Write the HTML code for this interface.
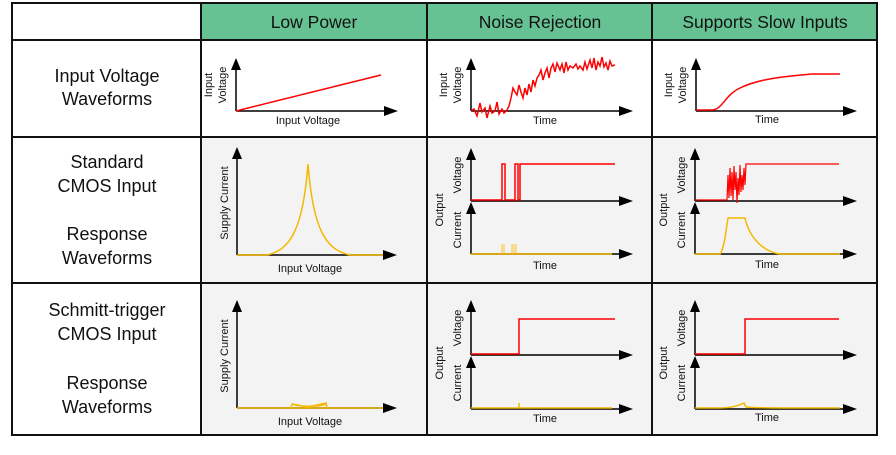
<!DOCTYPE html>
<html><head><meta charset="utf-8"><style>
body{margin:0;background:#fff;}
svg{display:block;font-family:"Liberation Sans",sans-serif;}
</style></head><body>
<svg width="896" height="455" viewBox="0 0 896 455">
<rect x="201" y="3" width="676" height="37" fill="#66c293"/>
<rect x="201" y="137" width="676" height="298" fill="#f3f3f3"/>
<g stroke="#111" stroke-width="2" fill="none">
<rect x="12" y="3" width="865" height="432"/>
<line x1="12" y1="40" x2="877" y2="40"/>
<line x1="12" y1="137" x2="877" y2="137"/>
<line x1="12" y1="283" x2="877" y2="283"/>
<line x1="201" y1="3" x2="201" y2="435"/>
<line x1="427" y1="3" x2="427" y2="435"/>
<line x1="652" y1="3" x2="652" y2="435"/>
</g>
<g font-size="17.5" text-anchor="middle" fill="#111">
<text x="314" y="28">Low Power</text>
<text x="540" y="28">Noise Rejection</text>
<text x="765" y="28">Supports Slow Inputs</text>
</g>
<g font-size="18" text-anchor="middle" fill="#111">
<text x="107" y="82">Input Voltage</text>
<text x="107" y="105">Waveforms</text>
<text x="107" y="168">Standard</text>
<text x="107" y="192">CMOS Input</text>
<text x="107" y="240">Response</text>
<text x="107" y="264">Waveforms</text>
<text x="107" y="316">Schmitt-trigger</text>
<text x="107" y="340">CMOS Input</text>
<text x="107" y="389">Response</text>
<text x="107" y="413">Waveforms</text>
</g>

<g stroke="#000" stroke-width="1.5" fill="none">
<path d="M236 111V66M236 111H388"/>
<path d="M471 111V66M471 111H622"/>
<path d="M696 111V66M696 111H846"/>
<path d="M237 255V157M237 255H386"/>
<path d="M471 201V157M471 201H622M471 254V213M471 254H622"/>
<path d="M695 201V157M695 201H846M695 254V213M695 254H846"/>
<path d="M237 408V310M237 408H386"/>
<path d="M471 355V310M471 355H622M471 409V367M471 409H622"/>
<path d="M695 355V310M695 355H846M695 409V367M695 409H846"/>
</g>
<g fill="#000">
<polygon points="236,58 231,70 241,70"/><polygon points="398,111 384,106 384,116"/>
<polygon points="471,58 466,70 476,70"/><polygon points="633,111 619,106 619,116"/>
<polygon points="696,58 691,70 701,70"/><polygon points="857,111 843,106 843,116"/>
<polygon points="237,147 232,159 242,159"/><polygon points="397,255 383,250 383,260"/>
<polygon points="471,148 466,160 476,160"/><polygon points="633,201 619,196 619,206"/>
<polygon points="471,202 466,214 476,214"/><polygon points="633,254 619,249 619,259"/>
<polygon points="695,148 690,160 700,160"/><polygon points="857,201 843,196 843,206"/>
<polygon points="695,202 690,214 700,214"/><polygon points="857,254 843,249 843,259"/>
<polygon points="237,300 232,312 242,312"/><polygon points="397,408 383,403 383,413"/>
<polygon points="471,300 466,312 476,312"/><polygon points="633,355 619,350 619,360"/>
<polygon points="471,356 466,368 476,368"/><polygon points="633,409 619,404 619,414"/>
<polygon points="695,300 690,312 700,312"/><polygon points="857,355 843,350 843,360"/>
<polygon points="695,356 690,368 700,368"/><polygon points="857,409 843,404 843,414"/>
</g>

<g stroke="#ff0000" stroke-width="1.5" fill="none">
<path d="M236 111L381 75"/>
<path d="M471 111L474 109L477 116L480 103L482 112L485 108L487 118L490 106L492 113L495 111L497 102L499 114L502 109L504 113L507 110L509 106L511 98L513 88L515 92L517 95L519 85L521 92L523 98L525 88L527 95L529 84L531 92L533 80L535 86L537 78L539 75L541 70L543 80L545 73L547 68L549 78L551 68L553 64L555 72L557 63L560 70L562 64L564 73L566 62L568 70L570 66L573 68L576 64L578 69L580 66L583 70L585 62L587 69L590 60L592 68L594 58L596 70L598 62L600 66L602 57L604 67L606 63L608 70L610 61L612 66L615 65"/>
<path d="M696 110H712C722 110 725 95 740 88C760 78 790 76 812 74H840"/>
</g>
<path d="M237 255H267C290 250 303 230 308 164C313 230 326 250 350 255H383" stroke="#f5b800" stroke-width="1.5" fill="none"/>
<path d="M471 200H502V164H505V200H515V164H518V200H520V164H615" stroke="#ff0000" stroke-width="1.5" fill="none"/>
<path d="M471 254H612" stroke="#f5b800" stroke-width="1.5" fill="none"/>
<path d="M502 254V244M504 254V244M512 254V244M514 254V244M516 254V244" stroke="#f5b800" stroke-width="0.8" fill="none"/>
<path d="M695 200H727L728 175L729 198L730 168L731 196L732 172L733 200L734 166L735 190L736 172L737 203L738 178L739 195L740 165L741 192L742 175L743 190L744 168L745 185L746 164H839" stroke="#ff0000" stroke-width="1.2" fill="none"/>
<path d="M695 254H720C724 250 726 230 728 218H745C750 240 765 252 780 254H840" stroke="#f5b800" stroke-width="1.5" fill="none"/>
<path d="M237 408H383M291 408L292 404L308 407L326 403L327 408M292 404C300 407 318 407 326 404" stroke="#f5b800" stroke-width="1.5" fill="none"/>
<path d="M471 354H519V319H615" stroke="#ff0000" stroke-width="1.5" fill="none"/>
<path d="M471 408H612M519 408V403" stroke="#f5b800" stroke-width="1.5" fill="none"/>
<path d="M695 354H745V319H839" stroke="#ff0000" stroke-width="1.5" fill="none"/>
<path d="M695 408H720C730 408 738 406 744 403L746 407C755 408 765 408 840 408" stroke="#f5b800" stroke-width="1.5" fill="none"/>

<g font-size="11" fill="#111" text-anchor="middle">
<text x="308" y="124">Input Voltage</text>
<text x="545" y="124">Time</text>
<text x="767" y="123">Time</text>
<text x="310" y="272">Input Voltage</text>
<text x="545" y="269">Time</text>
<text x="767" y="268">Time</text>
<text x="310" y="425">Input Voltage</text>
<text x="545" y="422">Time</text>
<text x="767" y="421">Time</text>
<g transform="translate(212,85) rotate(-90)"><text>Input</text></g>
<g transform="translate(226,85) rotate(-90)"><text>Voltage</text></g>
<g transform="translate(447,85) rotate(-90)"><text>Input</text></g>
<g transform="translate(461,85) rotate(-90)"><text>Voltage</text></g>
<g transform="translate(672,85) rotate(-90)"><text>Input</text></g>
<g transform="translate(686,85) rotate(-90)"><text>Voltage</text></g>
<g transform="translate(228,203) rotate(-90)"><text>Supply Current</text></g>
<g transform="translate(228,356) rotate(-90)"><text>Supply Current</text></g>
<g transform="translate(443,210) rotate(-90)"><text>Output</text></g>
<g transform="translate(461,175) rotate(-90)"><text>Voltage</text></g>
<g transform="translate(461,230) rotate(-90)"><text>Current</text></g>
<g transform="translate(667,210) rotate(-90)"><text>Output</text></g>
<g transform="translate(685,175) rotate(-90)"><text>Voltage</text></g>
<g transform="translate(685,230) rotate(-90)"><text>Current</text></g>
<g transform="translate(443,363) rotate(-90)"><text>Output</text></g>
<g transform="translate(461,328) rotate(-90)"><text>Voltage</text></g>
<g transform="translate(461,383) rotate(-90)"><text>Current</text></g>
<g transform="translate(667,363) rotate(-90)"><text>Output</text></g>
<g transform="translate(685,328) rotate(-90)"><text>Voltage</text></g>
<g transform="translate(685,383) rotate(-90)"><text>Current</text></g>
</g>
</svg>
</body></html>
